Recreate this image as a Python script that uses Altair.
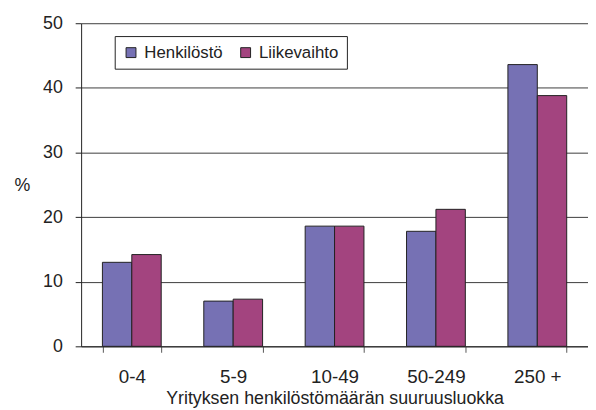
import altair as alt
import pandas as pd

categories = ["0-4", "5-9", "10-49", "50-249", "250 +"]
series = ["Henkilöstö", "Liikevaihto"]
henkilosto = [13.0, 7.0, 18.6, 17.8, 43.6]
liikevaihto = [14.2, 7.3, 18.6, 21.2, 38.8]
colors = ["#7671B4", "#A3447F"]
y_ticks = [0, 10, 20, 30, 40, 50]

rows = []
for c, h, l in zip(categories, henkilosto, liikevaihto):
    rows.append({"luokka": c, "sarja": series[0], "arvo": h})
    rows.append({"luokka": c, "sarja": series[1], "arvo": l})
df = pd.DataFrame(rows)

FONT = "Liberation Sans"
W, H = 513, 327

chart = alt.Chart(df).mark_bar(stroke="#222222", strokeWidth=1).encode(
    x=alt.X(
        "luokka:N", sort=categories,
        scale=alt.Scale(paddingInner=0.42, paddingOuter=0.21),
        axis=alt.Axis(
            title="Yrityksen henkilöstömäärän suuruusluokka",
            labelAngle=0, tickBand="extent", tickSize=6, tickColor="#555555",
            domainColor="#222222", labelFontSize=19, labelPadding=16,
            labelColor="#222222", labelFont=FONT,
            titleFont=FONT, titleFontSize=18, titleFontWeight="normal",
            titleColor="#222222", titleX=W / 2, titleY=58,
            titleAlign="center", titleBaseline="alphabetic", grid=False,
        ),
    ),
    xOffset=alt.XOffset("sarja:N", sort=series,
                        scale=alt.Scale(paddingInner=0, paddingOuter=0)),
    y=alt.Y(
        "arvo:Q",
        scale=alt.Scale(domain=[0, 50], nice=False),
        axis=alt.Axis(
            values=y_ticks, title="%", titleAngle=0, titleX=-60, titleY=164,
            titleAlign="center", titleBaseline="middle", titleFont=FONT,
            titleFontSize=18, titleFontWeight="normal", titleColor="#222222",
            labelFont=FONT, labelFontSize=18, labelColor="#222222",
            labelPadding=13, tickSize=6, tickColor="#222222",
            domainColor="#222222", gridColor="#3c3c3c", gridWidth=1,
        ),
    ),
    color=alt.Color(
        "sarja:N", sort=series,
        scale=alt.Scale(domain=series, range=colors),
        legend=alt.Legend(
            title=None, orient="none", legendX=34, legendY=13,
            direction="horizontal", strokeColor="#222222", fillColor="white",
            padding=8, symbolType="square", symbolSize=100,
            symbolStrokeColor="#222222", symbolStrokeWidth=1,
            labelFont=FONT, labelFontSize=17, labelColor="#222222",
            labelOffset=5, columnPadding=14,
        ),
    ),
).properties(
    width=W, height=H,
    autosize="none",
    padding={"left": 74, "top": 13, "right": 0, "bottom": 60},
).configure_view(strokeWidth=0)

chart.save("out.html", embed_options={"renderer": "svg", "actions": False})
